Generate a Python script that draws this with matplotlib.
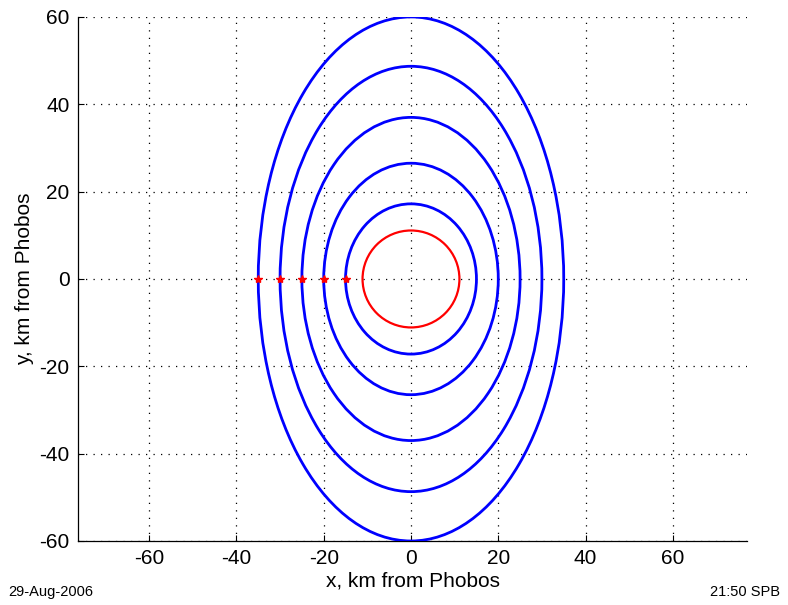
import matplotlib
matplotlib.use('Agg')
import matplotlib.pyplot as plt
from matplotlib.patches import Ellipse

plt.rcParams['font.family'] = ['Liberation Sans', 'DejaVu Sans']
plt.rcParams['axes.unicode_minus'] = False

# Orbit semi-axes about Phobos (km): along x and along y
orbit_ax = [15, 20, 25, 30, 35]
orbit_ay = [17.2, 26.5, 37.0, 48.7, 60.0]

# Start points of the orbits, on the x axis
start_x = [-35, -30, -25, -20, -15]
start_y = [0, 0, 0, 0, 0]

# Phobos mean radius (km)
phobos_r = 11.1

xticks = [-60, -40, -20, 0, 20, 40, 60]
yticks = [-60, -40, -20, 0, 20, 40, 60]

fig = plt.figure(figsize=(7.88, 6.05), dpi=100)
ax = fig.add_axes([0.099, 0.1058, 0.849, 0.8662])

for a, b in zip(orbit_ax, orbit_ay):
    ax.add_patch(Ellipse((0, 0), 2 * a, 2 * b, fill=False,
                         edgecolor='#0000ff', lw=2.0, zorder=3))

ax.add_patch(Ellipse((0, 0), 2 * phobos_r, 2 * phobos_r, fill=False,
                     edgecolor='#ff0000', lw=1.6, zorder=3))

ax.plot(start_x, start_y, ls='none', marker='*', ms=6, color='#ff0000',
        mec='#ff0000', zorder=4)

ax.set_xlim(-76.3, 77)
ax.set_ylim(-60, 60)
ax.set_xticks(xticks)
ax.set_yticks(yticks)
ax.tick_params(direction='in', length=4, width=0.8, labelsize=15, pad=6)

ax.grid(True, color='black', lw=0.9, ls=(0, (1, 5)))
ax.set_axisbelow(True)
for side in ['top', 'right']:
    ax.spines[side].set_visible(False)
for side in ['left', 'bottom']:
    ax.spines[side].set_linewidth(0.9)

ax.set_xlabel('x, km from Phobos', fontsize=15, labelpad=2)
ax.set_ylabel('y, km from Phobos', fontsize=15, labelpad=4)

fig.text(0.010, 0.010, '29-Aug-2006', fontsize=10.5, ha='left', va='bottom')
fig.text(0.990, 0.010, '21:50 SPB', fontsize=10.5, ha='right', va='bottom')

fig.savefig('out.png', dpi=100)
